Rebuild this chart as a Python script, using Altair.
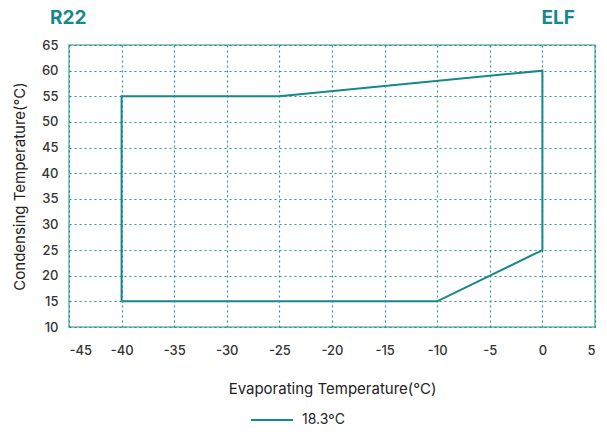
import altair as alt
import pandas as pd

# Envelope polygon (closed)
evap = [-40, -40, -25, 0, 0, -10, -40]
cond = [15, 55, 55, 60, 25, 15, 15]
series_name = "18.3ºC"
x_ticks = [-45, -40, -35, -30, -25, -20, -15, -10, -5, 0, 5]
y_ticks = [10, 15, 20, 25, 30, 35, 40, 45, 50, 55, 60, 65]

TEAL = "#16878c"
FONT = "Inter"

df = pd.DataFrame({
    "evap": evap,
    "cond": cond,
    "order": list(range(len(evap))),
    "series": [series_name] * len(evap),
})

line = alt.Chart(df).mark_line(strokeWidth=2).encode(
    x=alt.X("evap:Q",
            scale=alt.Scale(domain=[-45, 5], nice=False, zero=False),
            axis=alt.Axis(values=x_ticks, title="Evaporating Temperature(°C)",
                          labelExpr="replace(datum.label, '−', '-')",
                          titlePadding=24, labelPadding=17)),
    y=alt.Y("cond:Q",
            scale=alt.Scale(domain=[10, 65], nice=False, zero=False),
            axis=alt.Axis(values=y_ticks, title="Condensing Temperature(°C)",
                          titlePadding=14, labelPadding=11)),
    order="order:Q",
    color=alt.Color("series:N",
                    scale=alt.Scale(range=[TEAL]),
                    legend=alt.Legend(title=None, orient="none", legendX=181, legendY=353,
                                      symbolType="stroke", symbolSize=1764,
                                      symbolStrokeWidth=2, labelFontSize=14,
                                      labelColor="#222", labelFont=FONT, labelOffset=8)),
)

titles = alt.Chart(pd.DataFrame({"t": ["R22"]})).mark_text(
    align="left", baseline="middle", fontSize=19, fontWeight="bold", color=TEAL, font=FONT
).encode(text="t:N", x=alt.value(-19), y=alt.value(-27))

titles2 = alt.Chart(pd.DataFrame({"t": ["ELF"]})).mark_text(
    align="right", baseline="middle", fontSize=19, fontWeight="bold", color=TEAL, font=FONT
).encode(text="t:N", x=alt.value(506), y=alt.value(-27))

chart = alt.layer(line, titles, titles2).properties(
    width=526, height=282,
    autosize=alt.AutoSizeParams(type="none"),
    padding={"left": 61, "top": 37, "right": 2, "bottom": 101},
).configure_view(
    stroke="#6cb4b8", strokeWidth=1.5
).configure_axis(
    grid=True, gridColor=TEAL, gridDash=[2, 3], gridWidth=1.2, gridOpacity=0.9,
    domain=False, ticks=False,
    labelFont=FONT, labelFontSize=13, labelColor="#333", labelFontWeight=500,
    titleFont=FONT, titleFontSize=15, titleColor="#222", titleFontWeight="normal",
)

chart.save("out.html", embed_options={"renderer": "svg", "actions": False})
